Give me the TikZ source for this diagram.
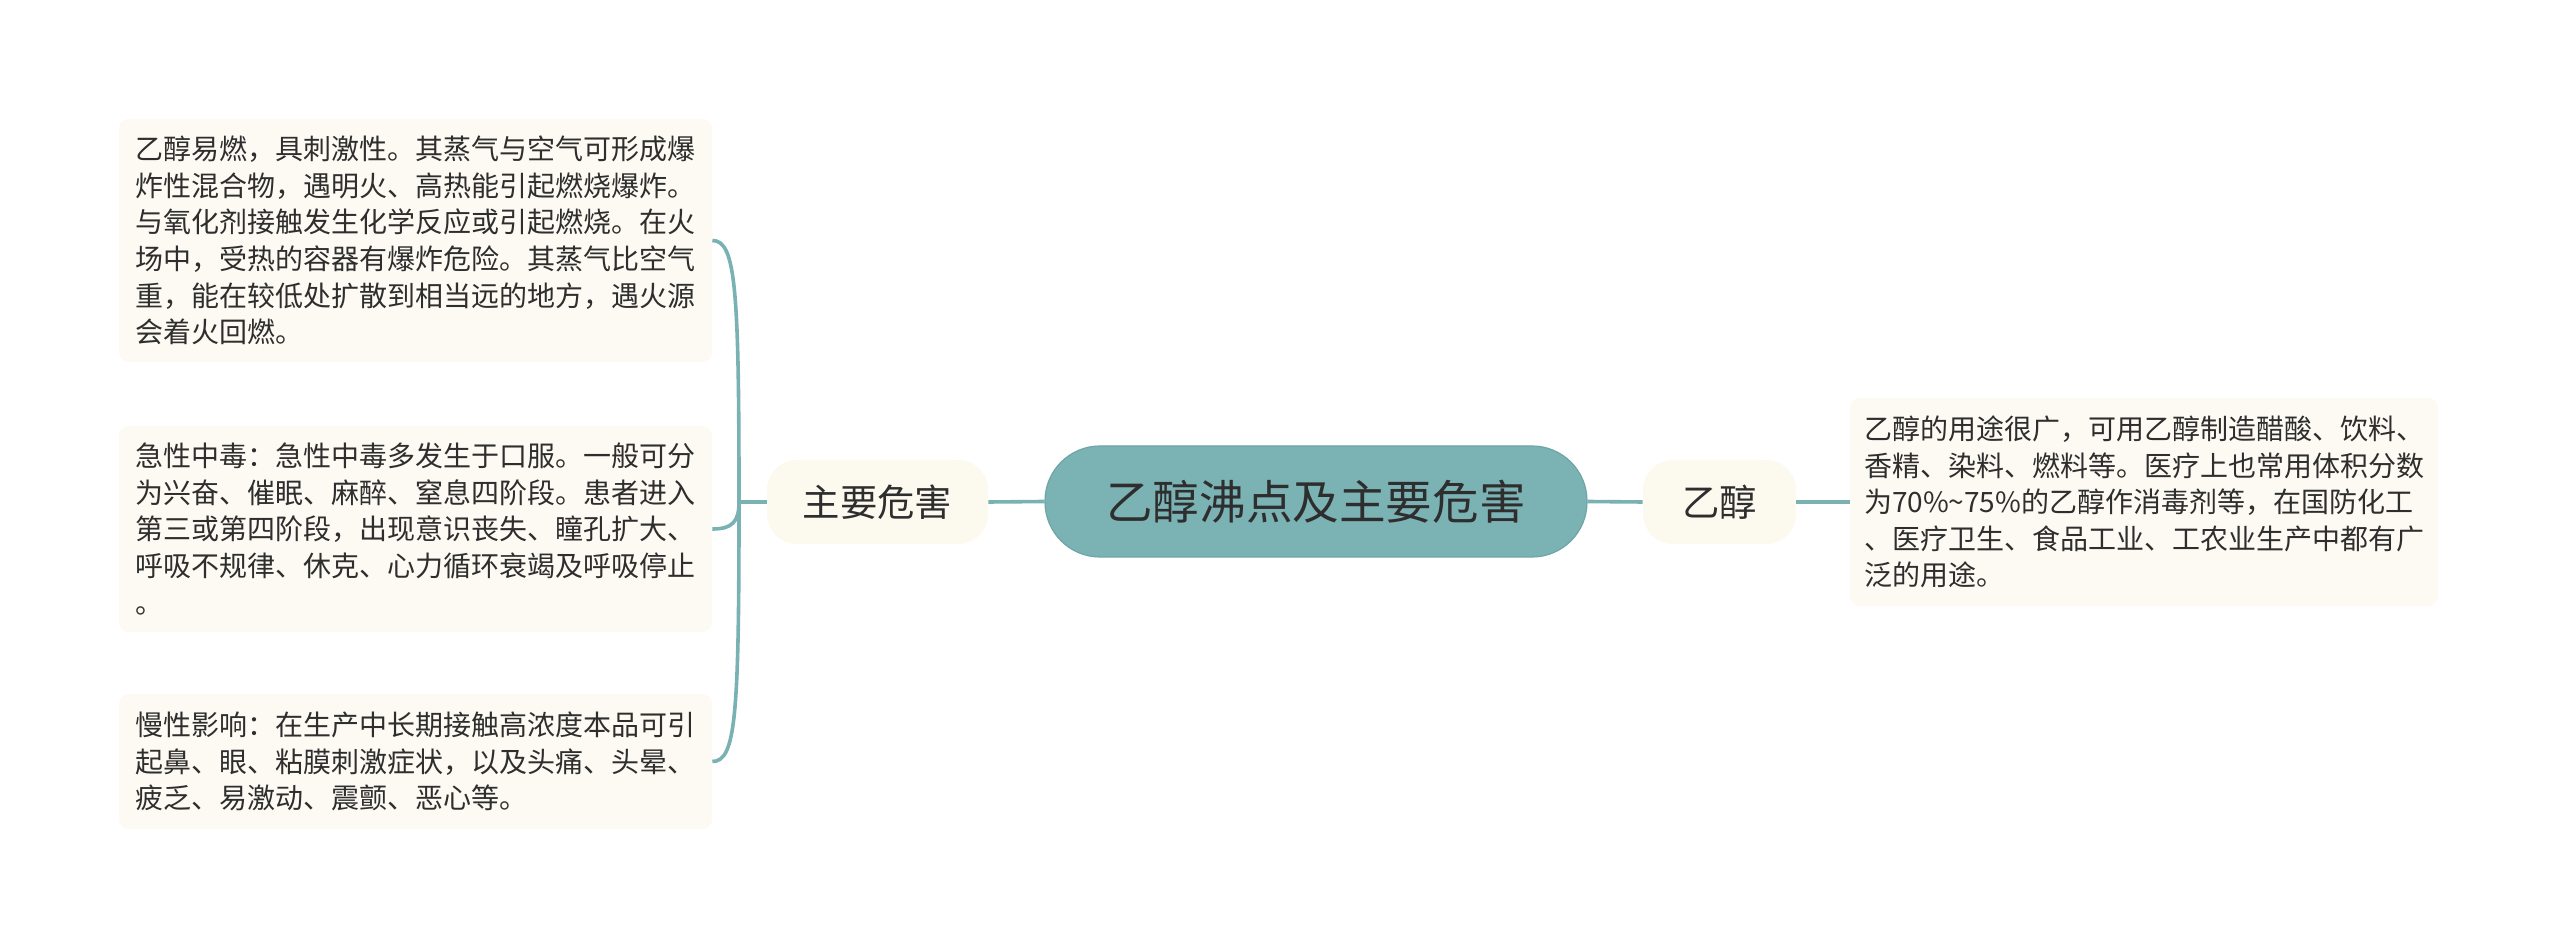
\documentclass[tikz,border=0pt]{standalone}
\usepackage{fontspec}
\setmainfont{Noto Sans CJK SC}
\definecolor{lineC}{HTML}{7AB1B3}
\definecolor{boxC}{HTML}{FCFAF2}
\definecolor{branchC}{HTML}{FCF9EE}
\definecolor{rootC}{HTML}{7BB2B4}
\definecolor{rootD}{HTML}{6EA5A7}
\definecolor{txtC}{HTML}{2E2E2E}
\begin{document}
\begin{tikzpicture}[x=0.5pt,y=-0.5pt]
\tikzset{
  textbox/.style={rectangle, rounded corners=5pt, fill=boxC, text=txtC,
    font=\fontsize{14}{18.3}\selectfont, align=left, inner sep=0pt, text width=280pt},
  branch/.style={rectangle, rounded corners=15pt, fill=branchC, text=txtC,
    font=\fontsize{18.7}{21}\selectfont, inner sep=0pt, minimum height=42pt},
  root/.style={rectangle, rounded corners=27.5pt, fill=rootC, draw=rootD, line width=0.6pt,
    text=txtC, font=\fontsize{23.3}{26}\selectfont, inner sep=0pt,
    minimum width=271pt, minimum height=55.5pt},
  link/.style={draw=lineC, line width=1.8pt},
}
\useasboundingbox (0,0) rectangle (2560,951);
\fill[white] (0,0) rectangle (2560,951);

\node[root] (root) at (1316,501.5) {乙醇沸点及主要危害};
\node[branch, minimum width=110.5pt] (zy) at (877.5,502) {主要危害};
\node[branch, minimum width=76.5pt] (yc) at (1719.5,502) {乙醇};

\node[textbox, minimum width=296.5pt, minimum height=121.5pt] (b1) at (415.5,240.5)
{乙醇易燃，具刺激性。其蒸气与空气可形成爆\\炸性混合物，遇明火、高热能引起燃烧爆炸。\\与氧化剂接触发生化学反应或引起燃烧。在火\\场中，受热的容器有爆炸危险。其蒸气比空气\\重，能在较低处扩散到相当远的地方，遇火源\\会着火回燃。};
\node[textbox, minimum width=296.5pt, minimum height=103pt] (b2) at (415.5,529)
{急性中毒：急性中毒多发生于口服。一般可分\\为兴奋、催眠、麻醉、窒息四阶段。患者进入\\第三或第四阶段，出现意识丧失、瞳孔扩大、\\呼吸不规律、休克、心力循环衰竭及呼吸停止\\。};
\node[textbox, minimum width=296.5pt, minimum height=67.5pt] (b3) at (415.5,761.5)
{慢性影响：在生产中长期接触高浓度本品可引\\起鼻、眼、粘膜刺激症状，以及头痛、头晕、\\疲乏、易激动、震颤、恶心等。};
\node[textbox, minimum width=294pt, minimum height=104pt] (rb) at (2144,502)
{乙醇的用途很广，可用乙醇制造醋酸、饮料、\\香精、染料、燃料等。医疗上也常用体积分数\\为70\%\textasciitilde75\%的乙醇作消毒剂等，在国防化工\\、医疗卫生、食品工业、工农业生产中都有广\\泛的用途。};

\draw[link] (root.west) -- (zy.east);
\draw[link] (root.east) -- (yc.west);
\draw[link] (yc.east) -- (rb.west);

\coordinate (sp) at (739,502);
\draw[link] (zy.west) -- (sp);
\draw[link] (sp) .. controls (739,290) and (736,240.5) .. (b1.east);
\draw[link] (sp) .. controls (739,522) and (732,529) .. (b2.east);
\draw[link] (sp) .. controls (739,715) and (736,761.5) .. (b3.east);
\end{tikzpicture}
\end{document}
